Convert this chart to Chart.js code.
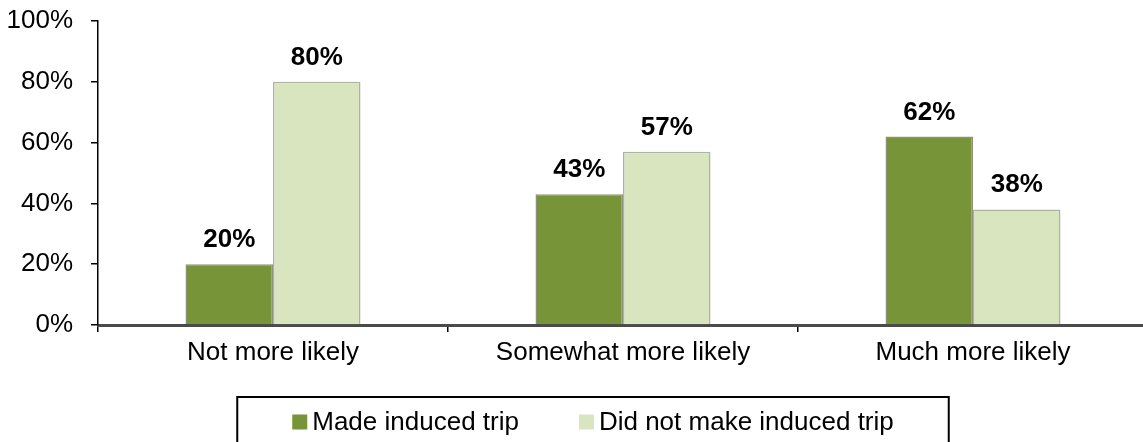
<!DOCTYPE html>
<html>
<head>
<meta charset="utf-8">
<script src="https://cdn.jsdelivr.net/npm/chart.js@4/dist/chart.umd.min.js"></script>
<style>
  html, body { margin: 0; padding: 0; background: #fff; overflow: hidden; }
  #wrap { width: 1143px; height: 442px; overflow: hidden; }
  canvas { display: block; }
</style>
</head>
<body>
<div id="wrap"><canvas id="c" width="1150" height="442"></canvas></div>
<script>
// Share of respondents by likelihood group
const categories = ['Not more likely', 'Somewhat more likely', 'Much more likely'];
const madeTrip = [20, 43, 62];
const didNotMakeTrip = [80, 57, 38];
const seriesNames = ['Made induced trip', 'Did not make induced trip'];
const yTicks = [0, 20, 40, 60, 80, 100];

const FONT = "'Liberation Sans', Arial, Helvetica, sans-serif";

// Bold percentage above each bar
const valueLabels = {
  id: 'valueLabels',
  afterDatasetsDraw(chart) {
    const ctx = chart.ctx;
    ctx.save();
    ctx.font = 'bold 26px ' + FONT;
    ctx.fillStyle = '#000';
    ctx.textAlign = 'center';
    ctx.textBaseline = 'alphabetic';
    chart.data.datasets.forEach((ds, di) => {
      const meta = chart.getDatasetMeta(di);
      meta.data.forEach((bar, i) => {
        ctx.fillText(ds.data[i] + '%', bar.x, bar.y - 17);
      });
    });
    ctx.restore();
  }
};

// Boxed legend below the axis
const boxedLegend = {
  id: 'boxedLegend',
  afterDraw(chart) {
    const ctx = chart.ctx;
    ctx.save();
    ctx.font = '26px ' + FONT;
    const sw = 15, gapText = 5, gapItem = 60, cy = 422;
    const items = chart.data.datasets.map(ds => ({
      label: ds.label, color: ds.backgroundColor,
      w: sw + gapText + ctx.measureText(ds.label).width
    }));
    const total = items.reduce((s, it) => s + it.w, 0) + gapItem * (items.length - 1);
    const center = 593;
    let x = center - total / 2;
    ctx.strokeStyle = '#000';
    ctx.lineWidth = 2;
    ctx.strokeRect(center - total / 2 - 55, 397, total + 110, 50);
    ctx.textBaseline = 'middle';
    ctx.textAlign = 'left';
    items.forEach(it => {
      ctx.fillStyle = it.color;
      ctx.fillRect(x, cy - 7.5, sw, sw);
      ctx.fillStyle = '#000';
      ctx.fillText(it.label, x + sw + gapText, cy + 1);
      x += it.w + gapItem;
    });
    ctx.restore();
  }
};

new Chart(document.getElementById('c'), {
  type: 'bar',
  data: {
    labels: categories,
    datasets: [
      {
        label: seriesNames[0], data: madeTrip,
        backgroundColor: '#779438', borderColor: 'rgba(60,75,30,0.6)', borderWidth: 1.5,
        categoryPercentage: 0.5, barPercentage: 1.0
      },
      {
        label: seriesNames[1], data: didNotMakeTrip,
        backgroundColor: '#D8E5BF', borderColor: 'rgba(120,130,105,0.6)', borderWidth: 1.5,
        categoryPercentage: 0.5, barPercentage: 1.0
      }
    ]
  },
  options: {
    responsive: false,
    animation: false,
    devicePixelRatio: 1,
    layout: { padding: { top: 21, left: 0, right: 2, bottom: 60 } },
    plugins: { legend: { display: false }, tooltip: { enabled: false } },
    scales: {
      x: {
        afterFit(s) { s.height = 57; },
        grid: { offset: true, drawOnChartArea: false, drawTicks: true, tickLength: 7, color: '#000', lineWidth: 1.5 },
        border: { display: true, color: '#4a4a4a', width: 3 },
        ticks: { color: '#000', padding: 5, font: { family: FONT, size: 26 } }
      },
      y: {
        min: 0, max: 100,
        afterFit(s) { s.width = 98; s.paddingTop = 0; s.paddingBottom = 0; },
        afterBuildTicks(s) { s.ticks = yTicks.map(v => ({ value: v })); },
        grid: { drawOnChartArea: false, drawTicks: true, tickLength: 7, color: '#000', lineWidth: 1.5 },
        border: { display: true, color: '#000', width: 1.5 },
        ticks: { color: '#000', padding: 18, font: { family: FONT, size: 26 }, callback: v => v + '%' }
      }
    }
  },
  plugins: [valueLabels, boxedLegend]
});
</script>
</body>
</html>
